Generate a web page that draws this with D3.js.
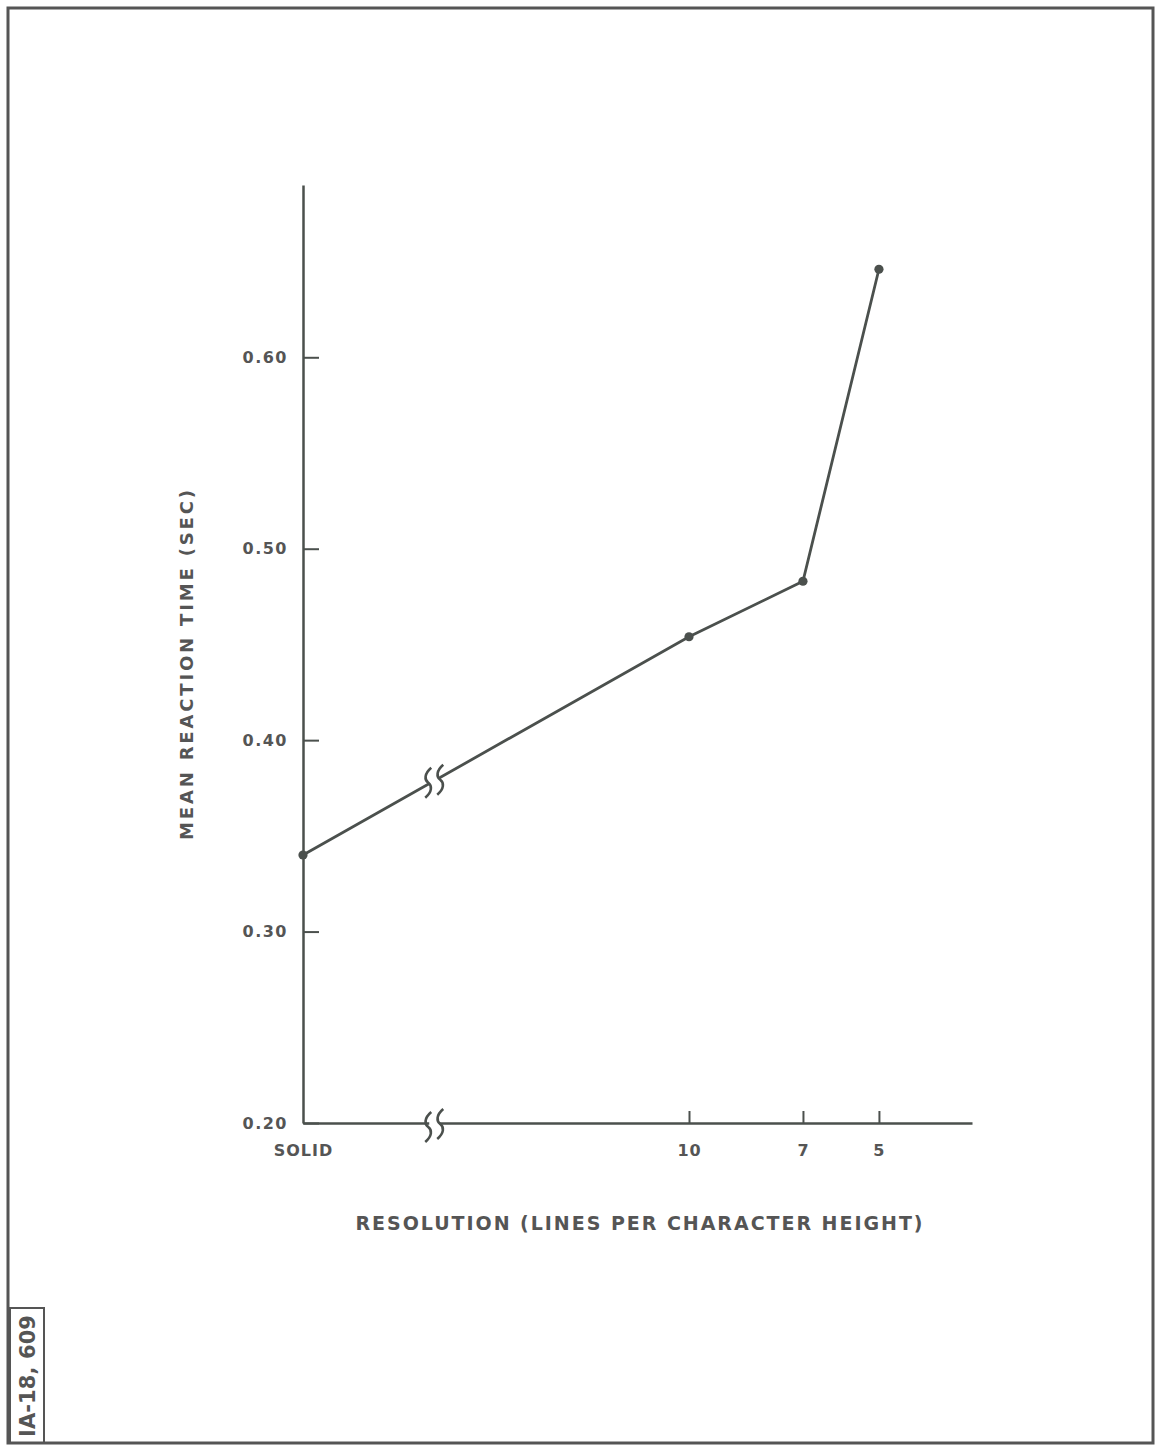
<!DOCTYPE html>
<html>
<head>
<meta charset="utf-8">
<script src="https://cdn.jsdelivr.net/npm/d3@7"></script>
<style>
  body { margin: 0; background: #fff; }
  text { font-family: "DejaVu Sans", sans-serif; font-weight: bold; fill: #555; }
</style>
</head>
<body>
<div id="chart"></div>
<script>
const width = 1158, height = 1449;

// data
const categories = ['SOLID', '10', '7', '5'];
const linesPerChar = [20, 10, 7, 5]; // SOLID sits left of the axis break
const reactionTime = [0.34, 0.454, 0.483, 0.646];
const yTicks = [0.20, 0.30, 0.40, 0.50, 0.60];
const breakAt = 16.6; // where the x axis is broken

const ink = '#4b504d';

const svg = d3.select('#chart')
  .append('svg')
  .attr('width', width)
  .attr('height', height)

// outer frame + plate number box
svg.append('rect')
  .attr('x', 8).attr('y', 8)
  .attr('width', 1145).attr('height', 1435)
  .attr('fill', 'none').attr('stroke', '#555').attr('stroke-width', 3)
svg.append('rect')
  .attr('x', 10).attr('y', 1308)
  .attr('width', 34).attr('height', 135)
  .attr('fill', 'none').attr('stroke', '#555').attr('stroke-width', 2)
svg.append('text')
  .attr('transform', 'translate(35,1376) rotate(-90)')
  .attr('text-anchor', 'middle')
  .attr('textLength', 122)
  .attr('lengthAdjust', 'spacing')
  .style('font-size', '21px')
  .text('IA-18, 609')

const x = d3.scaleLinear().domain([20, 10, 2.55]).range([303, 689, 972])
const y = d3.scaleLinear().domain([0.2, 0.69]).range([1123, 185])

const g = svg.append('g')

// y axis, ticks pointing into the plot
const yAxis = g.append('g')
  .attr('transform', `translate(${x(20)},0)`)
  .call(d3.axisLeft(y).tickValues(yTicks).tickFormat(d3.format('.2f'))
    .tickSizeInner(-16).tickSizeOuter(0).tickPadding(15))
yAxis.select('.domain').attr('stroke', ink).attr('stroke-width', 2.5)
yAxis.selectAll('.tick line').attr('stroke', ink).attr('stroke-width', 2)
yAxis.selectAll('.tick text')
  .attr('fill', '#555').style('font-size', '16px').style('letter-spacing', '1.5px')

// x axis, ticks pointing up
const xAxis = g.append('g')
  .attr('transform', `translate(0,${y(0.2)})`)
  .call(d3.axisBottom(x).tickValues(linesPerChar)
    .tickFormat((d, i) => categories[i])
    .tickSizeInner(-12).tickSizeOuter(0).tickPadding(22))
xAxis.select('.domain').attr('stroke', ink).attr('stroke-width', 2.5)
xAxis.selectAll('.tick line').attr('stroke', ink).attr('stroke-width', 2)
  .attr('opacity', (d) => d === 20 ? 0 : 1)
xAxis.selectAll('.tick text')
  .attr('fill', '#555').style('font-size', '16px').style('letter-spacing', '1px')

// data line
const pts = linesPerChar.map((d, i) => [x(d), y(reactionTime[i])])
g.append('path')
  .attr('d', d3.line()(pts))
  .attr('fill', 'none').attr('stroke', ink).attr('stroke-width', 2.8)
g.selectAll('.dot')
  .data(pts)
  .enter()
  .append('circle')
  .attr('cx', (d) => d[0]).attr('cy', (d) => d[1])
  .attr('r', 4.6).attr('fill', ink)

// break marks on the axis and on the line
const squiggle = 'M 3,-15 C -4,-9 -4,-3 0,0 C 4,3 4,9 -3,15'
const bx = x(breakAt)
const t = (bx - pts[0][0]) / (pts[1][0] - pts[0][0])
const lineY = pts[0][1] + t * (pts[1][1] - pts[0][1])
const drawBreak = (cx, cy) => {
  const b = g.append('g').attr('transform', `translate(${cx},${cy})`)
  b.append('rect').attr('x', -5).attr('y', -6).attr('width', 10).attr('height', 12).attr('fill', '#fff')
  b.append('path').attr('d', squiggle).attr('transform', 'translate(-6,2)')
    .attr('fill', 'none').attr('stroke', ink).attr('stroke-width', 2.6)
  b.append('path').attr('d', squiggle).attr('transform', 'translate(6,-1)')
    .attr('fill', 'none').attr('stroke', ink).attr('stroke-width', 2.6)
}
drawBreak(bx, y(0.2) + 2)
drawBreak(bx, lineY)

// axis titles
svg.append('text')
  .attr('x', 639).attr('y', 1230)
  .attr('text-anchor', 'middle')
  .attr('textLength', 567)
  .attr('lengthAdjust', 'spacing')
  .style('font-size', '19px')
  .text('RESOLUTION (LINES  PER CHARACTER HEIGHT)')
svg.append('text')
  .attr('transform', 'translate(193,665) rotate(-90)')
  .attr('text-anchor', 'middle')
  .attr('textLength', 350)
  .attr('lengthAdjust', 'spacing')
  .style('font-size', '18px')
  .text('MEAN REACTION TIME (SEC)')
</script>
</body>
</html>
